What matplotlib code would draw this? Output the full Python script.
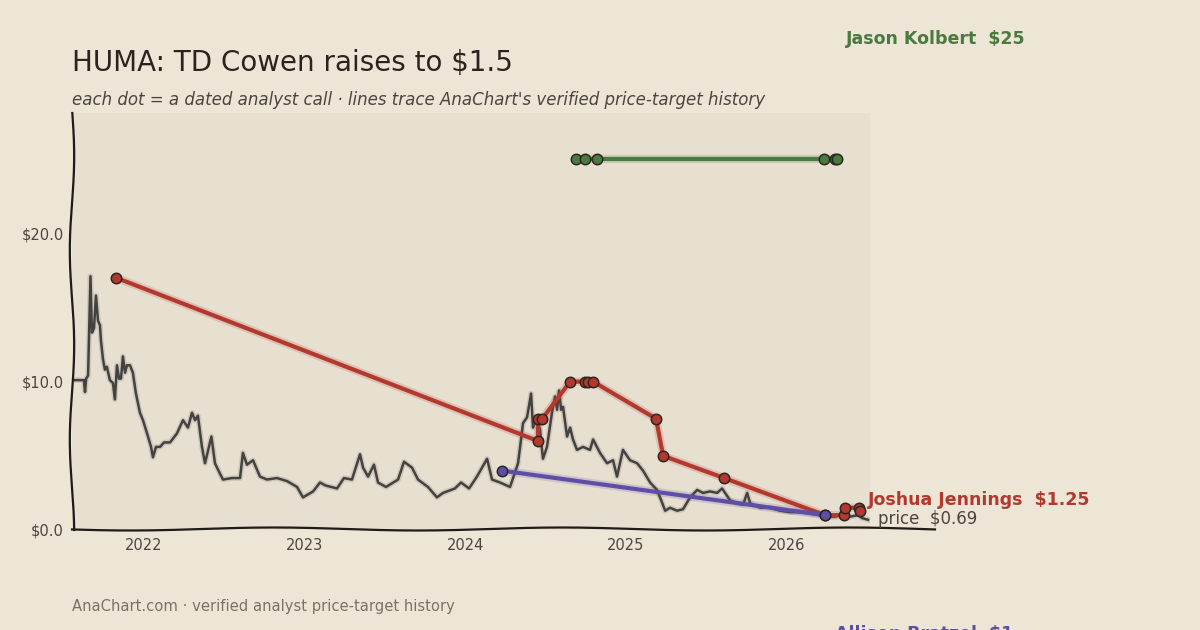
import matplotlib
matplotlib.use("Agg")
import matplotlib.pyplot as plt
import matplotlib.patheffects as pe
import numpy as np

# price history (decimal year, $)
price_t = [2021.552, 2021.600, 2021.626, 2021.633, 2021.640, 2021.652, 2021.667, 2021.676, 2021.689,
           2021.701, 2021.714, 2021.726, 2021.732, 2021.745, 2021.757, 2021.769, 2021.788, 2021.807,
           2021.819, 2021.832, 2021.845, 2021.857, 2021.869, 2021.882, 2021.894, 2021.913, 2021.931,
           2021.950, 2021.975, 2021.994, 2022.025, 2022.044, 2022.056, 2022.075, 2022.100, 2022.125,
           2022.162, 2022.205, 2022.243, 2022.274, 2022.299, 2022.318, 2022.336, 2022.361, 2022.380,
           2022.420, 2022.442, 2022.473, 2022.492, 2022.548, 2022.598, 2022.616, 2022.641, 2022.679,
           2022.722, 2022.766, 2022.828, 2022.890, 2022.953, 2022.990, 2023.053, 2023.096, 2023.130,
           2023.202, 2023.245, 2023.295, 2023.345, 2023.364, 2023.395, 2023.432, 2023.457, 2023.507,
           2023.582, 2023.619, 2023.669, 2023.706, 2023.768, 2023.824, 2023.862, 2023.936, 2023.974,
           2024.024, 2024.073, 2024.136, 2024.167, 2024.217, 2024.279, 2024.329, 2024.360, 2024.385,
           2024.410, 2024.422, 2024.447, 2024.466, 2024.484, 2024.509, 2024.540, 2024.559, 2024.572,
           2024.584, 2024.597, 2024.609, 2024.634, 2024.653, 2024.671, 2024.696, 2024.733, 2024.777,
           2024.796, 2024.839, 2024.883, 2024.920, 2024.945, 2024.982, 2025.026, 2025.070, 2025.107,
           2025.151, 2025.194, 2025.220, 2025.245, 2025.275, 2025.319, 2025.356, 2025.400, 2025.444,
           2025.481, 2025.524, 2025.568, 2025.599, 2025.630, 2025.649, 2025.693, 2025.730, 2025.755,
           2025.774, 2025.836, 2025.898, 2025.960, 2026.022, 2026.085, 2026.147, 2026.209, 2026.247,
           2026.303, 2026.334, 2026.396, 2026.446, 2026.471, 2026.508]
price_v = [10.1, 10.1, 10.1, 9.3, 10.2, 10.4, 17.1, 13.3, 13.6,
           15.8, 14.1, 13.8, 12.8, 11.5, 10.8, 11.0, 10.1, 9.9,
           8.8, 11.1, 10.2, 10.2, 11.7, 10.6, 11.1, 11.1, 10.6,
           9.2, 7.9, 7.4, 6.3, 5.6, 4.9, 5.6, 5.6, 5.9,
           5.9, 6.5, 7.4, 6.9, 7.9, 7.4, 7.7, 5.6, 4.5,
           6.3, 4.5, 3.8, 3.4, 3.5, 3.5, 5.2, 4.4, 4.7,
           3.6, 3.4, 3.5, 3.3, 2.9, 2.2, 2.6, 3.2, 3.0,
           2.8, 3.5, 3.4, 5.1, 4.2, 3.6, 4.4, 3.2, 2.9,
           3.4, 4.6, 4.2, 3.4, 2.9, 2.2, 2.5, 2.8, 3.2,
           2.8, 3.6, 4.8, 3.4, 3.2, 2.9, 4.5, 7.2, 7.6,
           9.2, 6.9, 7.6, 6.7, 4.8, 5.6, 7.9, 9.0, 8.1,
           9.4, 8.1, 8.3, 6.3, 6.9, 6.1, 5.4, 5.6, 5.4,
           6.1, 5.2, 4.5, 4.7, 3.6, 5.4, 4.7, 4.5, 4.0,
           3.2, 2.7, 2.0, 1.3, 1.5, 1.3, 1.4, 2.2, 2.7,
           2.5, 2.6, 2.5, 2.8, 2.3, 2.0, 1.8, 1.7, 2.5,
           1.8, 1.5, 1.5, 1.3, 1.2, 1.2, 1.1, 1.0, 0.9,
           0.9, 1.0, 0.9, 1.0, 0.8, 0.69]

# analyst price-target histories
jennings_t = [2021.826, 2024.453, 2024.453, 2024.480, 2024.653, 2024.746, 2024.765, 2024.796,
              2025.188, 2025.232, 2025.612, 2026.240, 2026.359, 2026.365, 2026.452, 2026.458]
jennings_v = [17.0, 6.0, 7.5, 7.5, 10.0, 10.0, 10.0, 10.0, 7.5, 5.0, 3.5, 1.0, 1.0, 1.5, 1.5, 1.25]
kolbert_t = [2024.690, 2024.746, 2024.821, 2026.234, 2026.302, 2026.315]
kolbert_v = [25, 25, 25, 25, 25, 25]
bratzel_t = [2024.229, 2026.240]
bratzel_v = [4.0, 1.0]

years = [2022, 2023, 2024, 2025, 2026]
yticks = [0, 10, 20]

BG = "#ede6d6"
PANEL = "#e7dfd0"
RED = "#b3392f"
GREEN = "#4a7a3e"
PURPLE = "#5e4ea6"
INK = "#4a4540"

plt.rcParams['font.family'] = ['DejaVu Sans']

fig = plt.figure(figsize=(12, 6.3), dpi=100, facecolor=BG)
ax = fig.add_axes([72 / 1200, 100 / 630, 798 / 1200, 417 / 630])
ax.set_facecolor(PANEL)
ax.set_xlim(2021.552, 2026.52)
ax.set_ylim(0, 28.1)

ax.plot(price_t, price_v, color="#444240", lw=1.8, zorder=3,
        path_effects=[pe.Stroke(linewidth=4, foreground="#444240", alpha=0.15), pe.Normal()])


def analyst(t, v, c):
    ax.plot(t, v, color=c, lw=3, zorder=4, solid_capstyle="round",
            path_effects=[pe.Stroke(linewidth=6, foreground=c, alpha=0.18), pe.Normal()])
    ax.plot(t, v, "o", ms=7.5, mfc=c, mec="#2b2622", mew=1.1, zorder=5)


analyst(jennings_t, jennings_v, RED)
analyst(bratzel_t, bratzel_v, PURPLE)
analyst(kolbert_t, kolbert_v, GREEN)

ax.set_xticks(years)
ax.set_xticklabels([str(y) for y in years])
ax.set_yticks(yticks)
ax.set_yticklabels(["$%.1f" % y for y in yticks])
ax.tick_params(length=0, labelsize=10.5, labelcolor=INK, pad=6)
for s in ax.spines.values():
    s.set_visible(False)

# hand-drawn axis lines
yy = np.linspace(113, 530, 200)
xl = 72 + 1.6 * np.sin((yy - 113) / 417 * 2 * np.pi * 2.2 + 0.2) + 0.6 * np.sin((yy - 113) / 30)
xx = np.linspace(72, 935, 300)
yb = 529 + 1.5 * np.sin((xx - 72) / 863 * 2 * np.pi * 3.0 + 0.3)
fig.add_artist(plt.Line2D(xl / 1200, 1 - yy / 630, color="#1e1b18", lw=1.6, transform=fig.transFigure))
fig.add_artist(plt.Line2D(xx / 1200, 1 - yb / 630, color="#1e1b18", lw=1.6, transform=fig.transFigure))

# texts
fig.text(72 / 1200, 1 - 63 / 630, "HUMA: TD Cowen raises to $1.5", fontsize=20, color="#2a2420",
         va="center", ha="left")
fig.text(72 / 1200, 1 - 100 / 630,
         "each dot = a dated analyst call · lines trace AnaChart's verified price-target history",
         fontsize=12, style="italic", color=INK, va="center", ha="left")
fig.text(72 / 1200, 1 - 606 / 630, "AnaChart.com · verified analyst price-target history",
         fontsize=10.6, color="#7a7268", va="center", ha="left")

fig.text(846 / 1200, 1 - 39 / 630, "Jason Kolbert  $%g" % kolbert_v[-1], fontsize=12.5,
         fontweight="bold", color=GREEN, va="center")
fig.text(868 / 1200, 1 - 500 / 630, "Joshua Jennings  $%g" % jennings_v[-1], fontsize=12.5,
         fontweight="bold", color=RED, va="center")
fig.text(878 / 1200, 1 - 519 / 630, "price  $%.2f" % price_v[-1], fontsize=12,
         color=INK, va="center")
fig.text(835 / 1200, 1 - 634 / 630, "Allison Bratzel  $%g" % bratzel_v[-1], fontsize=12.5,
         fontweight="bold", color=PURPLE, va="center")

fig.savefig("out.png", dpi=100, facecolor=BG)
